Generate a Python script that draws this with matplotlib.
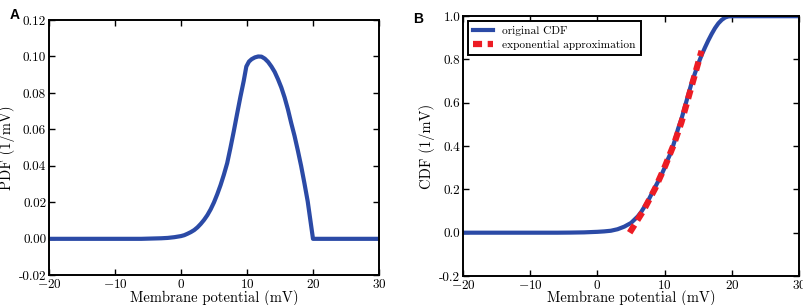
import matplotlib
matplotlib.use('Agg')
from matplotlib import pyplot as plt

plt.rcParams['font.family'] = 'serif'
plt.rcParams['font.serif'] = ['cmr10']
plt.rcParams['mathtext.fontset'] = 'cm'
plt.rcParams['axes.formatter.use_mathtext'] = True

## PDF (panel A)
pdf_v = [-20, -6, -5, -4, -3, -2, -1, 0, 0.5, 1, 1.5, 2, 2.5, 3, 3.5, 4, 4.5, 5, 5.5, 6,
         6.5, 7, 7.5, 8, 8.5, 9, 9.5, 9.9, 10.3, 10.7, 11.2, 11.7, 12.2, 12.7, 13.2, 13.7,
         14.2, 14.7, 15.2, 15.7, 16.2, 16.7, 17.2, 17.7, 18.2, 18.7, 19.2, 20, 30]
pdf_p = [0, 0, 0.0001, 0.0002, 0.0003, 0.0005, 0.0009, 0.0015, 0.002, 0.0028, 0.0037,
         0.0048, 0.0063, 0.0082, 0.0104, 0.013, 0.0162, 0.020, 0.0245, 0.0295, 0.0352,
         0.0415, 0.050, 0.059, 0.0685, 0.0778, 0.0865, 0.0945, 0.0972, 0.0985, 0.0995, 0.1,
         0.0999, 0.0988, 0.097, 0.0945, 0.0915, 0.0875, 0.083, 0.0775, 0.071, 0.0635,
         0.0565, 0.0485, 0.040, 0.0305, 0.0205, 0.0, 0]

## CDF (panel B)
cdf_v = [-20, -6, -4, -2, 0, 1, 2, 3, 4, 5, 5.5, 6, 6.5, 7, 7.5, 8, 8.5, 9, 9.5, 10, 10.5,
         11, 11.5, 12, 12.5, 13, 13.5, 14, 14.5, 15, 15.5, 16, 16.5, 17, 17.5, 18, 18.5,
         19, 19.5, 20, 30]
cdf_c = [0, 0, 0.0005, 0.0015, 0.004, 0.006, 0.009, 0.016, 0.028, 0.045, 0.06, 0.075,
         0.095, 0.12, 0.145, 0.175, 0.205, 0.235, 0.265, 0.3, 0.34, 0.375, 0.425, 0.48,
         0.525, 0.58, 0.635, 0.69, 0.735, 0.78, 0.82, 0.855, 0.888, 0.918, 0.945, 0.967,
         0.983, 0.994, 0.999, 1.0, 1.0]

## exponential approximation
exp_v = [4.8, 6.9, 8.6, 10.1, 11.4, 12.5, 13.5, 14.5, 15.5]
exp_c = [0.0, 0.105, 0.205, 0.31, 0.41, 0.51, 0.62, 0.73, 0.84]

blue = '#2b4aa6'
red = '#ec1c24'

fig = plt.figure(figsize=(8.04, 3.05), dpi=100)
ax1 = fig.add_axes([0.0609, 0.0974, 0.4105, 0.837])
ax2 = fig.add_axes([0.5759, 0.0951, 0.4179, 0.8518])

for ax in (ax1, ax2):
    ax.tick_params(direction='in', top=True, right=True, labelsize=9.5, length=4, width=1,
                   pad=2)
    for s in ax.spines.values():
        s.set_linewidth(1.4)
    ax.set_xlim(-20, 30)
    ax.set_xticks([-20, -10, 0, 10, 20, 30])
    ax.set_xlabel('Membrane potential (mV)', fontsize=10.5, labelpad=-1)

### Panel A
ax1.plot(pdf_v, pdf_p, color=blue, lw=3, solid_joinstyle='round')
ax1.set_ylim(-0.02, 0.12)
ax1.set_yticks([-0.02, 0, 0.02, 0.04, 0.06, 0.08, 0.10, 0.12])
ax1.yaxis.set_major_formatter(matplotlib.ticker.FormatStrFormatter('%.2f'))
ax1.set_ylabel('PDF (1/mV)', fontsize=10.5, labelpad=3)

### Panel B
ax2.plot(cdf_v, cdf_c, color=blue, lw=3, label='original CDF')
ax2.plot(exp_v, exp_c, color=red, lw=4.5, ls=(0, (1.45, 0.9)), label='exponential approximation')
ax2.set_ylim(-0.2, 1.0)
ax2.set_yticks([-0.2, 0, 0.2, 0.4, 0.6, 0.8, 1.0])
ax2.yaxis.set_major_formatter(matplotlib.ticker.FormatStrFormatter('%.1f'))
ax2.set_ylabel('CDF (1/mV)', fontsize=10.5, labelpad=3)
leg = ax2.legend(loc='upper left', fontsize=8.2, fancybox=False, edgecolor='black',
                 framealpha=1, borderaxespad=0.4, handlelength=1.8, borderpad=0.45,
                 labelspacing=0.35)
leg.get_frame().set_linewidth(1.4)

fig.text(0.012, 0.975, 'A', family='Liberation Sans', weight='bold', fontsize=10,
         va='top')
fig.text(0.514, 0.96, 'B', family='Liberation Sans', weight='bold', fontsize=10,
         va='top')

plt.savefig('out.png', dpi=100)
